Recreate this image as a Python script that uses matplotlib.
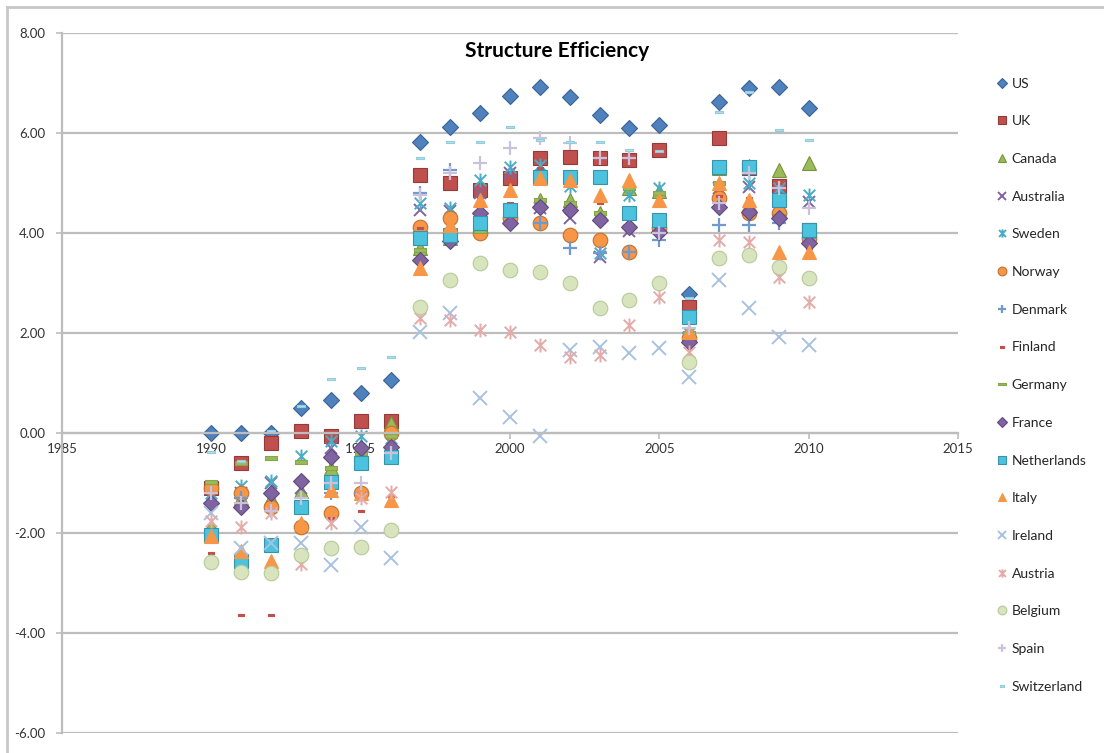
import matplotlib.pyplot as plt
import numpy as np
from matplotlib.path import Path
from matplotlib.lines import Line2D

plt.rcParams['font.family'] = ['Lato', 'DejaVu Sans']

years = list(range(1990, 2011))

US = [0.00, 0.00, 0.00, 0.50, 0.66, 0.80, 1.06, 5.82, 6.12, 6.40, 6.74, 6.92, 6.72, 6.36, 6.10, 6.16, 2.78, 6.62, 6.90, 6.92, 6.50]
UK = [-1.10, -0.60, -0.20, 0.04, -0.05, 0.24, 0.24, 5.16, 5.00, 4.86, 5.10, 5.50, 5.52, 5.50, 5.46, 5.66, 2.52, 5.90, 5.30, 4.95, 4.06]
Canada = [-1.85, -1.30, -1.30, -1.15, -0.70, -0.50, 0.20, 3.70, 3.90, 4.10, 4.40, 4.66, 4.65, 4.40, 4.90, 4.85, 2.00, 5.30, 5.35, 5.26, 5.40]
Australia = [-1.30, -1.20, -1.00, -1.10, -0.30, -0.40, -0.20, 4.46, 4.45, 4.80, 5.20, 4.50, 4.30, 3.52, 4.05, 4.10, 1.90, 4.90, 4.92, 4.80, 4.62]
Sweden = [-1.20, -1.05, -0.95, -0.45, -0.15, -0.05, -0.10, 4.60, 4.50, 5.06, 5.32, 5.36, 4.95, 3.60, 4.76, 4.90, 2.00, 5.30, 5.00, 4.90, 4.76]
Norway = [-1.10, -1.20, -1.48, -1.87, -1.60, -1.20, 0.00, 4.12, 4.30, 4.00, 4.30, 4.20, 3.96, 3.86, 3.62, 4.10, 1.90, 4.70, 4.40, 4.40, 3.90]
Denmark = [-1.20, -1.30, -1.55, -1.50, -1.20, -1.20, -0.40, 4.80, 5.26, 4.40, 4.20, 4.20, 3.70, 3.60, 3.62, 3.86, 2.00, 4.16, 4.16, 4.20, 3.90]
Finland = [-2.40, -3.64, -3.64, -2.40, -1.70, -1.55, -1.25, 4.10, 4.00, 4.70, 4.60, 5.30, 5.00, 4.60, 4.90, 4.60, 2.00, 4.75, 4.70, 5.00, 3.70]
Germany = [-0.98, -0.60, -0.50, -0.58, -0.70, -0.40, -0.06, 3.66, 3.90, 4.05, 4.20, 4.66, 4.60, 4.40, 4.90, 4.80, 2.00, 5.00, 4.40, 4.35, 4.00]
France = [-1.40, -1.48, -1.20, -0.95, -0.48, -0.30, -0.28, 3.46, 3.85, 4.40, 4.20, 4.52, 4.46, 4.26, 4.12, 4.02, 1.82, 4.52, 4.42, 4.30, 3.80]
Netherlands = [-2.04, -2.55, -2.24, -1.47, -0.97, -0.60, -0.48, 3.90, 3.96, 4.20, 4.46, 5.12, 5.12, 5.12, 4.40, 4.26, 2.32, 5.32, 5.32, 4.66, 4.06]
Italy = [-2.05, -2.35, -2.55, -1.80, -1.14, -1.20, -1.34, 3.30, 4.16, 4.66, 4.86, 5.10, 5.06, 4.76, 5.06, 4.66, 2.02, 5.00, 4.66, 3.62, 3.62]
Ireland = [-1.60, -2.30, -2.20, -2.20, -2.64, -1.88, -2.50, 2.02, 2.40, 0.70, 0.32, -0.06, 1.66, 1.72, 1.60, 1.70, 1.12, 3.06, 2.50, 1.92, 1.76]
Austria = [-1.75, -1.88, -1.60, -2.62, -1.80, -1.30, -1.18, 2.30, 2.26, 2.06, 2.02, 1.76, 1.52, 1.56, 2.16, 2.72, 1.62, 3.86, 3.82, 3.12, 2.62]
Belgium = [-2.58, -2.78, -2.80, -2.44, -2.30, -2.28, -1.94, 2.52, 3.06, 3.40, 3.26, 3.22, 3.00, 2.50, 2.66, 3.00, 1.42, 3.50, 3.56, 3.32, 3.10]
Spain = [-1.20, -1.40, -1.55, -1.30, -1.00, -1.00, -0.40, 4.76, 5.20, 5.40, 5.70, 5.90, 5.80, 5.50, 5.50, 4.00, 2.10, 4.60, 5.20, 4.90, 4.50]
Switzerland = [-0.38, -0.55, 0.05, 0.55, 1.08, 1.30, 1.52, 5.50, 5.82, 5.82, 6.12, 5.86, 5.82, 5.82, 5.66, 5.65, 2.70, 6.42, 6.82, 6.06, 5.86]

# Excel 型标记
star = Path([(-1, -1), (1, 1), (-1, 1), (1, -1), (0, -1.2), (0, 1.2)],
            [Path.MOVETO, Path.LINETO, Path.MOVETO, Path.LINETO, Path.MOVETO, Path.LINETO])
dash = Path([(-1, -0.35), (1, -0.35), (1, 0.35), (-1, 0.35), (-1, -0.35)],
            [Path.MOVETO, Path.LINETO, Path.LINETO, Path.LINETO, Path.CLOSEPOLY])

# name, data, marker, size, face, edge, linewidth
series = [
    ('US', US, 'D', 8, '#4F81BD', '#3A6396', 0.8),
    ('UK', UK, 's', 10, '#C0504D', '#943B39', 0.8),
    ('Canada', Canada, '^', 10, '#9BBB59', '#76923C', 0.8),
    ('Australia', Australia, 'x', 9, '#8064A2', '#8064A2', 1.4),
    ('Sweden', Sweden, star, 10, '#4BACC6', '#4BACC6', 1.4),
    ('Norway', Norway, 'o', 10.5, '#F79646', '#C0712F', 0.8),
    ('Denmark', Denmark, '+', 10, '#6E9AD0', '#6E9AD0', 1.6),
    ('Finland', Finland, dash, 5, '#C0504D', '#C0504D', 0.8),
    ('Germany', Germany, dash, 8.5, '#9BBB59', '#86A64A', 0.8),
    ('France', France, 'D', 8, '#8064A2', '#614A7D', 0.8),
    ('Netherlands', Netherlands, 's', 10, '#4BC3DE', '#3792AA', 0.8),
    ('Italy', Italy, '^', 10, '#F79646', '#F79646', 0.8),
    ('Ireland', Ireland, 'x', 10, '#A9C1E0', '#A9C1E0', 1.4),
    ('Austria', Austria, star, 10, '#E3ABA9', '#E3ABA9', 1.4),
    ('Belgium', Belgium, 'o', 10.5, '#D7E4BD', '#B7C99A', 0.8),
    ('Spain', Spain, '+', 10, '#CCC1DA', '#CCC1DA', 1.6),
    ('Switzerland', Switzerland, dash, 6, '#B7DEE8', '#93CDDD', 0.8),
]

fig = plt.figure(figsize=(11.04, 7.53), dpi=100)
ax = fig.add_axes([62 / 1104, 1 - 733 / 753, (958 - 62) / 1104, 700 / 753])

handles = []
for name, vals, mk, ms, fc, ec, lw in series:
    h, = ax.plot(years, vals, linestyle='none', marker=mk, markersize=ms,
                 markerfacecolor=fc, markeredgecolor=ec, markeredgewidth=lw,
                 label=name, clip_on=False)
    handles.append(h)

grid_c = '#BDBDBD'
ax.set_xlim(1985, 2015)
ax.set_ylim(-6, 8)
ax.set_xticks(np.arange(1985, 2016, 5))
ax.set_yticks(np.arange(-6, 9, 2))
ax.set_yticklabels([f'{v:.2f}' for v in np.arange(-6, 9, 2)])
ax.yaxis.grid(True, color=grid_c, linewidth=1.6)
ax.set_axisbelow(True)

for s in ['top', 'right']:
    ax.spines[s].set_visible(False)
ax.spines['bottom'].set_position(('data', 0))
ax.spines['bottom'].set_color(grid_c)
ax.spines['bottom'].set_linewidth(1.6)
ax.spines['left'].set_color(grid_c)
ax.spines['left'].set_linewidth(1.6)
ax.tick_params(axis='both', colors=grid_c, labelcolor='#333333', labelsize=9.5,
               direction='out', length=4, width=1.2)
ax.tick_params(axis='y', pad=8)

fig.text(557 / 1104, 1 - 51 / 753, 'Structure Efficiency', ha='center', va='center',
         fontsize=15, fontweight='bold', color='black')

leg = ax.legend(handles=handles, loc='upper left', bbox_to_anchor=(0.903, 0.897),
                bbox_transform=fig.transFigure, frameon=False, numpoints=1,
                fontsize=10, labelspacing=1.85, handlelength=0.8, handletextpad=0.25,
                borderpad=0, borderaxespad=0, markerscale=0.6)
for t in leg.get_texts():
    t.set_color('#262626')

# 外框
fig.add_artist(Line2D([7 / 1104, 7 / 1104], [0, 1 - 7 / 753], transform=fig.transFigure,
                      color='#C8C8C8', linewidth=2))
fig.add_artist(Line2D([7 / 1104, 1], [1 - 7 / 753, 1 - 7 / 753], transform=fig.transFigure,
                      color='#C8C8C8', linewidth=2))

fig.savefig('out.png', dpi=100)
